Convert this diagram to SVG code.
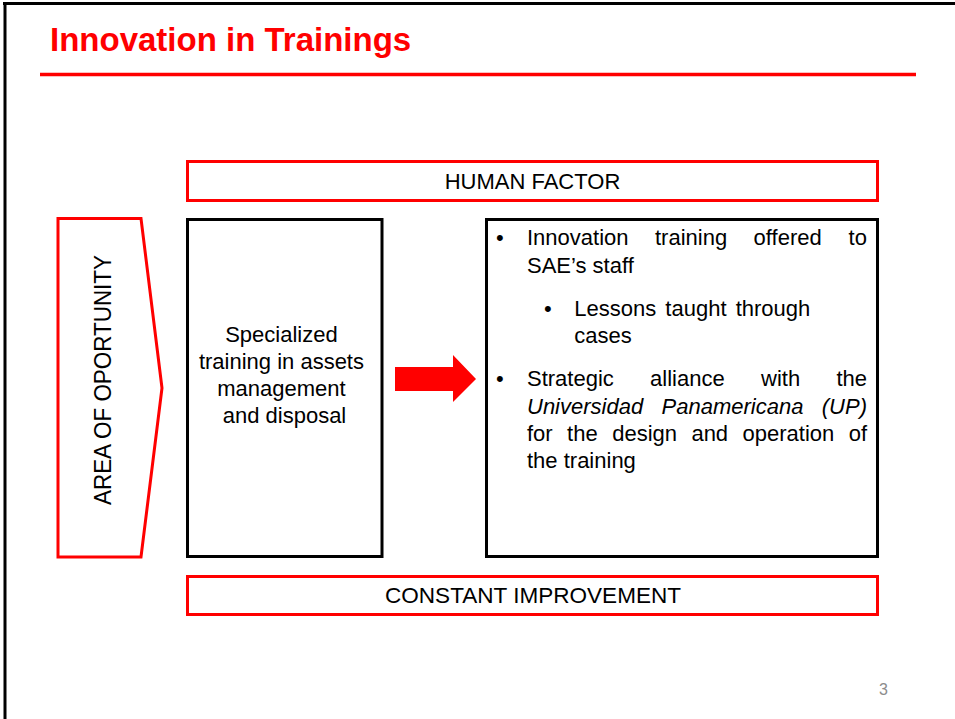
<svg xmlns="http://www.w3.org/2000/svg" width="955" height="719" viewBox="0 0 955 719">
<style>
  .t { font-family: "Liberation Sans", Arial, sans-serif; fill: #000; }
  .b22 { font-size: 22px; }
  .redbox { fill: #fff; stroke: #ff0000; stroke-width: 3; }
  .blkbox { fill: #fff; stroke: #000; stroke-width: 3; }
</style>
<defs>
  <filter id="blur" x="-5%" y="-200%" width="110%" height="500%">
    <feGaussianBlur stdDeviation="1.5"/>
  </filter>
</defs>
<rect x="0" y="0" width="955" height="719" fill="#fff"/>
<!-- frame -->
<line x1="3" y1="3.5" x2="955" y2="3.5" stroke="#000" stroke-width="3"/>
<line x1="5" y1="2" x2="5" y2="719" stroke="#000" stroke-width="3"/>

<!-- title -->
<g id="title">
  <text class="t" x="50" y="50.5" font-size="33" font-weight="bold" fill="#ff0000" style="fill:#ff0000">Innovation in Trainings</text>
  <line x1="41" y1="78" x2="916" y2="78" stroke="#999" stroke-width="3" filter="url(#blur)" opacity="0.8"/>
  <line x1="40" y1="74.5" x2="916" y2="74.5" stroke="#ff0000" stroke-width="3.5"/>
</g>

<g id="human-factor">
  <rect class="redbox" x="187.5" y="161.5" width="690" height="39"/>
  <text class="t b22" x="532.5" y="188.5" text-anchor="middle">HUMAN FACTOR</text>
</g>

<g id="area-of-opportunity">
  <polygon class="redbox" points="58,218.5 141,218.5 162,388 141,557 58,557"/>
  <text class="t" font-size="24" transform="translate(111,380) rotate(-90)" text-anchor="middle" textLength="250" lengthAdjust="spacingAndGlyphs">AREA OF OPORTUNITY</text>
</g>

<g id="specialized-training">
  <rect class="blkbox" x="187.5" y="219.5" width="194.5" height="337"/>
  <text class="t b22" text-anchor="middle">
    <tspan x="284.5" y="341.5">Specialized</tspan>
    <tspan x="284.5" y="368.5">training in assets</tspan>
    <tspan x="284.5" y="395.5">management</tspan>
    <tspan x="284.5" y="422.5">and disposal</tspan>
  </text>
</g>

<g id="connectors">
  <polygon points="395,367 453,367 453,355 476,379 453,402 453,391 395,391" fill="#ff0000"/>
</g>

<g id="innovation-details">
  <rect class="blkbox" x="486.5" y="219.5" width="391" height="337"/>
  <text class="t b22">
    <tspan x="496" y="245">•</tspan>
    <tspan x="527" y="245">Innovation</tspan>
    <tspan x="655" y="245">training</tspan>
    <tspan x="753.6" y="245">offered</tspan>
    <tspan x="848.6" y="245">to</tspan>
    <tspan x="527" y="272.5">SAE’s staff</tspan>
    <tspan x="544" y="315.5">•</tspan>
    <tspan x="574.3" y="315.5" word-spacing="3">Lessons taught through</tspan>
    <tspan x="574.3" y="342.5">cases</tspan>
    <tspan x="496" y="386">•</tspan>
    <tspan x="527" y="386">Strategic</tspan>
    <tspan x="650.1" y="386">alliance</tspan>
    <tspan x="761" y="386">with</tspan>
    <tspan x="836.4" y="386">the</tspan>
    <tspan x="527" y="413.5" font-style="italic">Universidad</tspan>
    <tspan x="661.6" y="413.5" font-style="italic">Panamericana</tspan>
    <tspan x="821.8" y="413.5" font-style="italic">(UP)</tspan>
    <tspan x="527" y="441">for</tspan>
    <tspan x="567.1" y="441">the</tspan>
    <tspan x="612.2" y="441">design</tspan>
    <tspan x="691.4" y="441">and</tspan>
    <tspan x="742.5" y="441">operation</tspan>
    <tspan x="848.7" y="441">of</tspan>
    <tspan x="527" y="468">the training</tspan>
  </text>
</g>

<g id="constant-improvement">
  <rect class="redbox" x="187.5" y="576.5" width="690" height="38"/>
  <text class="t b22" x="533" y="603" text-anchor="middle" textLength="296" lengthAdjust="spacingAndGlyphs">CONSTANT IMPROVEMENT</text>
</g>

<text class="t" x="879" y="695" font-size="16" style="fill:#8c8c8c">3</text>
</svg>
